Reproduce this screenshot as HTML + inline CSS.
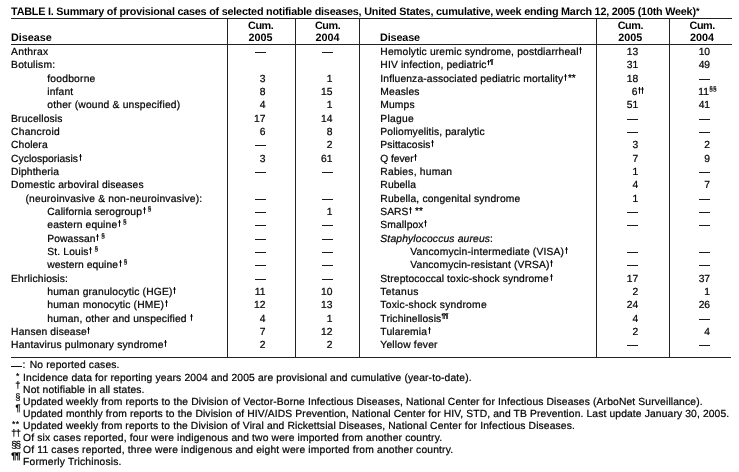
<!DOCTYPE html>
<html><head><meta charset="utf-8"><title>TABLE I</title>
<style>
html,body{margin:0;padding:0;background:#fff;}
body{width:739px;height:472px;position:relative;overflow:hidden;font-family:"Liberation Sans",sans-serif;color:#000;-webkit-text-stroke:0.22px #000;text-rendering:geometricPrecision;}
#w{position:absolute;left:0;top:0;width:739px;height:472px;will-change:transform;}
.r{position:absolute;white-space:nowrap;font-size:10.3px;line-height:13px;height:13px;}
.num{width:60px;text-align:right;}
.c{width:60px;text-align:center;letter-spacing:-0.15px;}
.h{font-size:10.8px;font-weight:bold;-webkit-text-stroke:0;}
.t{font-size:10.8px;}
.dg{width:3px;height:6.8px;margin-left:0.7px;vertical-align:1.3px;overflow:visible;}
.dg path{stroke:#000;stroke-width:0.95;fill:none;}
.ss{font-size:6.5px;position:relative;top:-3.8px;line-height:0;}
.pp{font-size:6.6px;font-weight:bold;position:relative;top:-3.8px;line-height:0;letter-spacing:-0.3px;}
.as{font-size:10px;position:relative;top:-0.7px;line-height:0;}
.d{display:inline-block;width:11px;height:1px;background:#1a1a1a;vertical-align:2px;}
.n{position:absolute;left:100%;top:-1.3px;white-space:nowrap;line-height:13px;}
.f{font-size:10.3px;}
.fm{font-size:9.3px;text-align:right;}
.hl{position:absolute;background:#222;height:1px;left:11px;width:721px;}
.vl{position:absolute;background:#222;width:1px;top:19px;height:338px;}
</style></head><body><div id="w">
<div class="hl" style="top:18.3px"></div>
<div class="hl" style="top:44px"></div>
<div class="hl" style="top:356.5px;width:719.6px"></div>
<div class="vl" style="left:227px"></div>
<div class="vl" style="left:295px"></div>
<div class="vl" style="left:359px"></div>
<div class="vl" style="left:596px"></div>
<div class="vl" style="left:669px"></div>
<div class="r" style="top:46px;left:11.10px"><span style="letter-spacing:0.267px">Anthrax</span></div>
<div class="r" style="top:59px;left:11.10px"><span style="letter-spacing:0.200px">Botulism:</span></div>
<div class="r" style="top:73px;left:47.30px"><span style="letter-spacing:0.206px">foodborne</span></div>
<div class="r" style="top:86px;left:47.30px"><span style="letter-spacing:0.120px">infant</span></div>
<div class="r" style="top:99px;left:47.30px"><span style="letter-spacing:0.177px">other (wound &amp; unspecified)</span></div>
<div class="r" style="top:113px;left:11.10px"><span style="letter-spacing:0.155px">Brucellosis</span></div>
<div class="r" style="top:126px;left:11.10px"><span style="letter-spacing:0.213px">Chancroid</span></div>
<div class="r" style="top:139px;left:11.10px"><span style="letter-spacing:0.075px">Cholera</span></div>
<div class="r" style="top:153px;left:11.10px"><span style="letter-spacing:0.042px">Cyclosporiasis</span><svg class="dg" viewBox="0 0 3 6.8"><path d="M1.5 0V6.8M0.2 2.1H2.8"/></svg></div>
<div class="r" style="top:166px;left:11.10px"><span style="letter-spacing:0.094px">Diphtheria</span></div>
<div class="r" style="top:179px;left:11.10px"><span style="letter-spacing:0.142px">Domestic arboviral diseases</span></div>
<div class="r" style="top:193px;left:25.50px"><span style="letter-spacing:0.190px">(neuroinvasive &amp; non-neuroinvasive):</span></div>
<div class="r" style="top:206px;left:47.30px"><span style="letter-spacing:0.097px">California serogroup</span><svg class="dg" viewBox="0 0 3 6.8"><path d="M1.5 0V6.8M0.2 2.1H2.8"/></svg><span class="ss" style="margin-left:2.1px">§</span></div>
<div class="r" style="top:219px;left:47.30px"><span style="letter-spacing:0.131px">eastern equine</span><svg class="dg" viewBox="0 0 3 6.8"><path d="M1.5 0V6.8M0.2 2.1H2.8"/></svg><span class="ss" style="margin-left:2.1px">§</span></div>
<div class="r" style="top:233px;left:47.30px"><span style="letter-spacing:0.093px">Powassan</span><svg class="dg" viewBox="0 0 3 6.8"><path d="M1.5 0V6.8M0.2 2.1H2.8"/></svg><span class="ss" style="margin-left:2.1px">§</span></div>
<div class="r" style="top:246px;left:47.30px"><span style="letter-spacing:0.137px">St. Louis</span><svg class="dg" viewBox="0 0 3 6.8"><path d="M1.5 0V6.8M0.2 2.1H2.8"/></svg><span class="ss" style="margin-left:2.1px">§</span></div>
<div class="r" style="top:259px;left:47.30px"><span style="letter-spacing:0.065px">western equine</span><svg class="dg" viewBox="0 0 3 6.8"><path d="M1.5 0V6.8M0.2 2.1H2.8"/></svg><span class="ss" style="margin-left:2.1px">§</span></div>
<div class="r" style="top:273px;left:11.10px"><span style="letter-spacing:0.163px">Ehrlichiosis:</span></div>
<div class="r" style="top:286px;left:47.30px"><span style="letter-spacing:0.165px">human granulocytic (HGE)</span><svg class="dg" viewBox="0 0 3 6.8"><path d="M1.5 0V6.8M0.2 2.1H2.8"/></svg></div>
<div class="r" style="top:299px;left:47.30px"><span style="letter-spacing:0.170px">human monocytic (HME)</span><svg class="dg" viewBox="0 0 3 6.8"><path d="M1.5 0V6.8M0.2 2.1H2.8"/></svg></div>
<div class="r" style="top:313px;left:47.30px"><span style="letter-spacing:0.133px">human, other and unspecified</span><span style="margin-left:2.6px"></span><svg class="dg" viewBox="0 0 3 6.8"><path d="M1.5 0V6.8M0.2 2.1H2.8"/></svg></div>
<div class="r" style="top:326px;left:11.10px"><span style="letter-spacing:0.131px">Hansen disease</span><svg class="dg" viewBox="0 0 3 6.8"><path d="M1.5 0V6.8M0.2 2.1H2.8"/></svg></div>
<div class="r" style="top:339px;left:11.10px"><span style="letter-spacing:0.146px">Hantavirus pulmonary syndrome</span><svg class="dg" viewBox="0 0 3 6.8"><path d="M1.5 0V6.8M0.2 2.1H2.8"/></svg></div>
<div class="r" style="top:46px;left:380.35px"><span style="letter-spacing:0.150px">Hemolytic uremic syndrome, postdiarrheal</span><svg class="dg" viewBox="0 0 3 6.8"><path d="M1.5 0V6.8M0.2 2.1H2.8"/></svg></div>
<div class="r" style="top:59px;left:380.35px"><span style="letter-spacing:0.137px">HIV infection, pediatric</span><svg class="dg" style="height:5.2px;vertical-align:2.6px;margin-left:0.4px" viewBox="0 0 3 5.2"><path d="M1.5 0V5.2M0.3 1.7H2.7"/></svg><span class="pp" style="margin-left:-0.2px">¶</span></div>
<div class="r" style="top:73px;left:380.35px"><span style="letter-spacing:0.123px">Influenza-associated pediatric mortality</span><svg class="dg" viewBox="0 0 3 6.8"><path d="M1.5 0V6.8M0.2 2.1H2.8"/></svg><span class="as" style="margin-left:1.0px">**</span></div>
<div class="r" style="top:86px;left:380.35px"><span style="letter-spacing:0.117px">Measles</span></div>
<div class="r" style="top:99px;left:380.35px"><span style="letter-spacing:0.112px">Mumps</span></div>
<div class="r" style="top:113px;left:380.35px"><span style="letter-spacing:0.260px">Plague</span></div>
<div class="r" style="top:126px;left:380.35px"><span style="letter-spacing:0.130px">Poliomyelitis, paralytic</span></div>
<div class="r" style="top:139px;left:380.35px"><span style="letter-spacing:0.085px">Psittacosis</span><svg class="dg" viewBox="0 0 3 6.8"><path d="M1.5 0V6.8M0.2 2.1H2.8"/></svg></div>
<div class="r" style="top:153px;left:380.35px"><span style="letter-spacing:-0.067px">Q fever</span><svg class="dg" viewBox="0 0 3 6.8"><path d="M1.5 0V6.8M0.2 2.1H2.8"/></svg></div>
<div class="r" style="top:166px;left:380.35px"><span style="letter-spacing:0.208px">Rabies, human</span></div>
<div class="r" style="top:179px;left:380.35px"><span style="letter-spacing:0.100px">Rubella</span></div>
<div class="r" style="top:193px;left:380.35px"><span style="letter-spacing:0.157px">Rubella, congenital syndrome</span></div>
<div class="r" style="top:206px;left:380.35px"><span style="letter-spacing:0.000px">SARS</span><svg class="dg" viewBox="0 0 3 6.8"><path d="M1.5 0V6.8M0.2 2.1H2.8"/></svg><span class="as" style="margin-left:3.0px">**</span></div>
<div class="r" style="top:219px;left:380.35px"><span style="letter-spacing:0.107px">Smallpox</span><svg class="dg" viewBox="0 0 3 6.8"><path d="M1.5 0V6.8M0.2 2.1H2.8"/></svg></div>
<div class="r" style="top:233px;left:380.35px"><span style="letter-spacing:0.155px"><i>Staphylococcus aureus</i>:</span></div>
<div class="r" style="top:246px;left:410.35px"><span style="letter-spacing:0.176px">Vancomycin-intermediate (VISA)</span><svg class="dg" viewBox="0 0 3 6.8"><path d="M1.5 0V6.8M0.2 2.1H2.8"/></svg></div>
<div class="r" style="top:259px;left:410.35px"><span style="letter-spacing:0.144px">Vancomycin-resistant (VRSA)</span><svg class="dg" viewBox="0 0 3 6.8"><path d="M1.5 0V6.8M0.2 2.1H2.8"/></svg></div>
<div class="r" style="top:273px;left:380.35px"><span style="letter-spacing:0.108px">Streptococcal toxic-shock syndrome</span><svg class="dg" viewBox="0 0 3 6.8"><path d="M1.5 0V6.8M0.2 2.1H2.8"/></svg></div>
<div class="r" style="top:286px;left:380.35px"><span style="letter-spacing:0.325px">Tetanus</span></div>
<div class="r" style="top:299px;left:380.35px"><span style="letter-spacing:0.232px">Toxic-shock syndrome</span></div>
<div class="r" style="top:313px;left:380.35px"><span style="letter-spacing:0.135px">Trichinellosis</span><span class="pp" style="margin-left:0.1px">¶¶</span></div>
<div class="r" style="top:326px;left:380.35px"><span style="letter-spacing:0.156px">Tularemia</span><svg class="dg" viewBox="0 0 3 6.8"><path d="M1.5 0V6.8M0.2 2.1H2.8"/></svg></div>
<div class="r" style="top:339px;left:380.35px"><span style="letter-spacing:0.182px">Yellow fever</span></div>
<div class="r h" style="top:32px;left:11.10px"><span style="letter-spacing:-0.042px">Disease</span></div>
<div class="r h" style="top:32px;left:380.00px"><span style="letter-spacing:-0.117px">Disease</span></div>
<div class="r h t" style="top:6px;left:11.10px"><span style="letter-spacing:-0.213px">TABLE I. Summary of provisional cases of selected notifiable diseases, United States, cumulative, week ending March 12, 2005 (10th Week)</span><span class="as" style="font-size:9px;margin-left:0.3px">*</span></div>
<div class="r f" style="top:359px;left:29.70px"><span style="letter-spacing:0.162px">No reported cases.</span></div>
<div class="r f" style="top:372px;left:23.10px"><span style="letter-spacing:0.144px">Incidence data for reporting years 2004 and 2005 are provisional and cumulative (year-to-date).</span></div>
<div class="r f" style="top:384px;left:23.10px"><span style="letter-spacing:0.143px">Not notifiable in all states.</span></div>
<div class="r f" style="top:396px;left:23.10px"><span style="letter-spacing:0.141px">Updated weekly from reports to the Division of Vector-Borne Infectious Diseases, National Center for Infectious Diseases (ArboNet Surveillance).</span></div>
<div class="r f" style="top:408px;left:23.10px"><span style="letter-spacing:0.128px">Updated monthly from reports to the Division of HIV/AIDS Prevention, National Center for HIV, STD, and TB Prevention. Last update January 30, 2005.</span></div>
<div class="r f" style="top:420px;left:23.10px"><span style="letter-spacing:0.133px">Updated weekly from reports to the Division of Viral and Rickettsial Diseases, National Center for Infectious Diseases.</span></div>
<div class="r f" style="top:432px;left:23.10px"><span style="letter-spacing:0.156px">Of six cases reported, four were indigenous and two were imported from another country.</span></div>
<div class="r f" style="top:444px;left:23.10px"><span style="letter-spacing:0.162px">Of 11 cases reported, three were indigenous and eight were imported from another country.</span></div>
<div class="r f" style="top:456px;left:23.10px"><span style="letter-spacing:0.170px">Formerly Trichinosis.</span></div>
<div class="r num" style="top:46px;left:205.39999999999998px"><span class="d" style="margin-right:-0.4px"></span></div>
<div class="r num" style="top:46px;left:272.4px"><span class="d" style="margin-right:-0.5px"></span></div>
<div class="r num" style="top:73px;left:205.39999999999998px">3</div>
<div class="r num" style="top:73px;left:272.4px">1</div>
<div class="r num" style="top:86px;left:205.39999999999998px">8</div>
<div class="r num" style="top:86px;left:272.4px">15</div>
<div class="r num" style="top:99px;left:205.39999999999998px">4</div>
<div class="r num" style="top:99px;left:272.4px">1</div>
<div class="r num" style="top:113px;left:205.39999999999998px">17</div>
<div class="r num" style="top:113px;left:272.4px">14</div>
<div class="r num" style="top:126px;left:205.39999999999998px">6</div>
<div class="r num" style="top:126px;left:272.4px">8</div>
<div class="r num" style="top:139px;left:205.39999999999998px"><span class="d" style="margin-right:-0.4px"></span></div>
<div class="r num" style="top:139px;left:272.4px">2</div>
<div class="r num" style="top:153px;left:205.39999999999998px">3</div>
<div class="r num" style="top:153px;left:272.4px">61</div>
<div class="r num" style="top:166px;left:205.39999999999998px"><span class="d" style="margin-right:-0.4px"></span></div>
<div class="r num" style="top:166px;left:272.4px"><span class="d" style="margin-right:-0.5px"></span></div>
<div class="r num" style="top:193px;left:205.39999999999998px"><span class="d" style="margin-right:-0.4px"></span></div>
<div class="r num" style="top:193px;left:272.4px"><span class="d" style="margin-right:-0.5px"></span></div>
<div class="r num" style="top:206px;left:205.39999999999998px"><span class="d" style="margin-right:-0.4px"></span></div>
<div class="r num" style="top:206px;left:272.4px">1</div>
<div class="r num" style="top:219px;left:205.39999999999998px"><span class="d" style="margin-right:-0.4px"></span></div>
<div class="r num" style="top:219px;left:272.4px"><span class="d" style="margin-right:-0.5px"></span></div>
<div class="r num" style="top:233px;left:205.39999999999998px"><span class="d" style="margin-right:-0.4px"></span></div>
<div class="r num" style="top:233px;left:272.4px"><span class="d" style="margin-right:-0.5px"></span></div>
<div class="r num" style="top:246px;left:205.39999999999998px"><span class="d" style="margin-right:-0.4px"></span></div>
<div class="r num" style="top:246px;left:272.4px"><span class="d" style="margin-right:-0.5px"></span></div>
<div class="r num" style="top:259px;left:205.39999999999998px"><span class="d" style="margin-right:-0.4px"></span></div>
<div class="r num" style="top:259px;left:272.4px"><span class="d" style="margin-right:-0.5px"></span></div>
<div class="r num" style="top:273px;left:205.39999999999998px"><span class="d" style="margin-right:-0.4px"></span></div>
<div class="r num" style="top:273px;left:272.4px"><span class="d" style="margin-right:-0.5px"></span></div>
<div class="r num" style="top:286px;left:205.39999999999998px">11</div>
<div class="r num" style="top:286px;left:272.4px">10</div>
<div class="r num" style="top:299px;left:205.39999999999998px">12</div>
<div class="r num" style="top:299px;left:272.4px">13</div>
<div class="r num" style="top:313px;left:205.39999999999998px">4</div>
<div class="r num" style="top:313px;left:272.4px">1</div>
<div class="r num" style="top:326px;left:205.39999999999998px">7</div>
<div class="r num" style="top:326px;left:272.4px">12</div>
<div class="r num" style="top:339px;left:205.39999999999998px">2</div>
<div class="r num" style="top:339px;left:272.4px">2</div>
<div class="r num" style="top:46px;left:578.3px">13</div>
<div class="r num" style="top:46px;left:650.1px">10</div>
<div class="r num" style="top:59px;left:578.3px">31</div>
<div class="r num" style="top:59px;left:650.1px">49</div>
<div class="r num" style="top:73px;left:578.3px">18</div>
<div class="r num" style="top:73px;left:650.1px"><span class="d" style="margin-right:-0.1px"></span></div>
<div class="r num" style="top:86px;left:578.3px"><span style="position:relative;margin-right:0.9px">6<span class="n"><svg class="dg" viewBox="0 0 3 6.8"><path d="M1.5 0V6.8M0.2 2.1H2.8"/></svg><svg class="dg" style="margin-left:0.2px" viewBox="0 0 3 6.8"><path d="M1.5 0V6.8M0.2 2.1H2.8"/></svg></span></span></div>
<div class="r num" style="top:86px;left:650.1px"><span style="position:relative;margin-right:1.1px">11<span class="n"><span class="ss" style="margin-left:0.3px">§</span><span class="ss" style="margin-left:0px">§</span></span></span></div>
<div class="r num" style="top:99px;left:578.3px">51</div>
<div class="r num" style="top:99px;left:650.1px">41</div>
<div class="r num" style="top:113px;left:578.3px"><span class="d" style="margin-right:0.2px"></span></div>
<div class="r num" style="top:113px;left:650.1px"><span class="d" style="margin-right:-0.1px"></span></div>
<div class="r num" style="top:126px;left:578.3px"><span class="d" style="margin-right:0.2px"></span></div>
<div class="r num" style="top:126px;left:650.1px"><span class="d" style="margin-right:-0.1px"></span></div>
<div class="r num" style="top:139px;left:578.3px">3</div>
<div class="r num" style="top:139px;left:650.1px">2</div>
<div class="r num" style="top:153px;left:578.3px">7</div>
<div class="r num" style="top:153px;left:650.1px">9</div>
<div class="r num" style="top:166px;left:578.3px">1</div>
<div class="r num" style="top:166px;left:650.1px"><span class="d" style="margin-right:-0.1px"></span></div>
<div class="r num" style="top:179px;left:578.3px">4</div>
<div class="r num" style="top:179px;left:650.1px">7</div>
<div class="r num" style="top:193px;left:578.3px">1</div>
<div class="r num" style="top:193px;left:650.1px"><span class="d" style="margin-right:-0.1px"></span></div>
<div class="r num" style="top:206px;left:578.3px"><span class="d" style="margin-right:0.2px"></span></div>
<div class="r num" style="top:206px;left:650.1px"><span class="d" style="margin-right:-0.1px"></span></div>
<div class="r num" style="top:219px;left:578.3px"><span class="d" style="margin-right:0.2px"></span></div>
<div class="r num" style="top:219px;left:650.1px"><span class="d" style="margin-right:-0.1px"></span></div>
<div class="r num" style="top:246px;left:578.3px"><span class="d" style="margin-right:0.2px"></span></div>
<div class="r num" style="top:246px;left:650.1px"><span class="d" style="margin-right:-0.1px"></span></div>
<div class="r num" style="top:259px;left:578.3px"><span class="d" style="margin-right:0.2px"></span></div>
<div class="r num" style="top:259px;left:650.1px"><span class="d" style="margin-right:-0.1px"></span></div>
<div class="r num" style="top:273px;left:578.3px">17</div>
<div class="r num" style="top:273px;left:650.1px">37</div>
<div class="r num" style="top:286px;left:578.3px">2</div>
<div class="r num" style="top:286px;left:650.1px">1</div>
<div class="r num" style="top:299px;left:578.3px">24</div>
<div class="r num" style="top:299px;left:650.1px">26</div>
<div class="r num" style="top:313px;left:578.3px">4</div>
<div class="r num" style="top:313px;left:650.1px"><span class="d" style="margin-right:-0.1px"></span></div>
<div class="r num" style="top:326px;left:578.3px">2</div>
<div class="r num" style="top:326px;left:650.1px">4</div>
<div class="r num" style="top:339px;left:578.3px"><span class="d" style="margin-right:0.2px"></span></div>
<div class="r num" style="top:339px;left:650.1px"><span class="d" style="margin-right:-0.1px"></span></div>
<div class="r h c" style="top:20px;left:230.7px;letter-spacing:-0.4px">Cum.</div>
<div class="r h c" style="top:20px;left:297.59999999999997px;letter-spacing:-0.4px">Cum.</div>
<div class="r h c" style="top:20px;left:600.4000000000001px;letter-spacing:-0.4px">Cum.</div>
<div class="r h c" style="top:20px;left:672.2px;letter-spacing:-0.4px">Cum.</div>
<div class="r h c" style="top:32px;left:230.5px;letter-spacing:0">2005</div>
<div class="r h c" style="top:32px;left:297.4px;letter-spacing:0">2004</div>
<div class="r h c" style="top:32px;left:600.2px;letter-spacing:0">2005</div>
<div class="r h c" style="top:32px;left:672px;letter-spacing:0">2004</div>
<div style="position:absolute;left:11.1px;top:365.6px;width:11px;height:1px;background:#111"></div>
<div class="r f" style="top:359px;left:22.6px">:</div>
<div class="r fm" style="top:369.6px;left:0;width:19.4px;font-size:8.6px">*</div>
<div class="r fm" style="top:378.7px;left:0;width:20.3px;">†</div>
<div class="r fm" style="top:390.7px;left:0;width:20.3px;">§</div>
<div class="r fm" style="top:401.6px;left:0;width:20.5px;">¶</div>
<div class="r fm" style="top:418.0px;left:0;width:19.4px;font-size:8.6px;letter-spacing:0.3px">**</div>
<div class="r fm" style="top:426.5px;left:0;width:20.3px;letter-spacing:-0.6px">††</div>
<div class="r fm" style="top:438.7px;left:0;width:19.6px;font-size:10px;letter-spacing:-1.4px">§§</div>
<div class="r fm" style="top:449.6px;left:0;width:19.7px;letter-spacing:-1.0px"><b>¶¶</b></div>
</div></body></html>
